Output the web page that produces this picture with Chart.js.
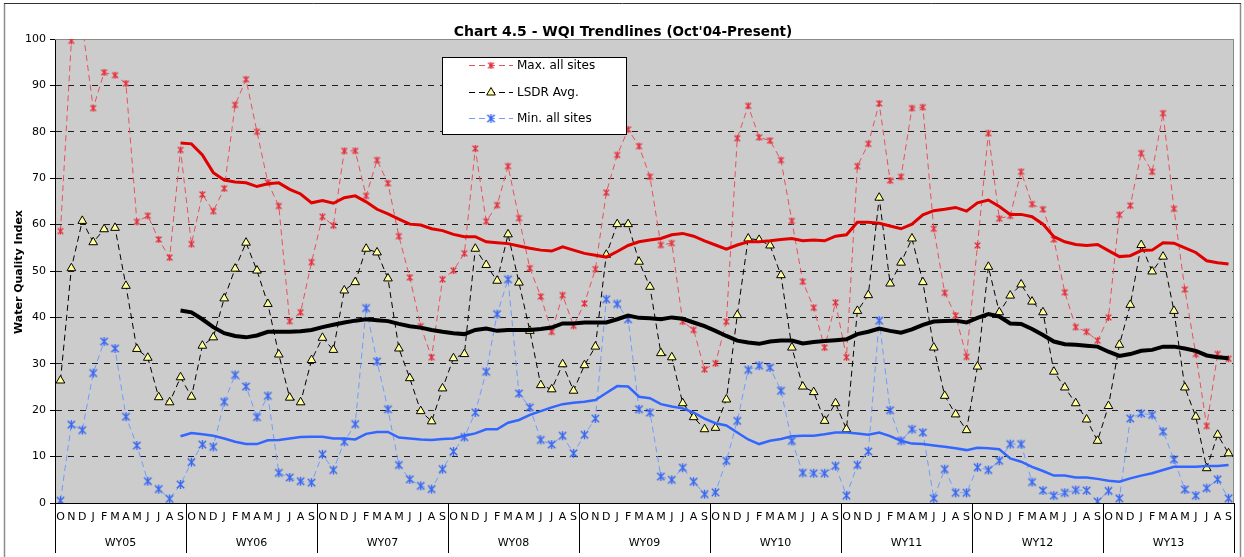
<!DOCTYPE html>
<html>
<head>
<meta charset="utf-8">
<title>Chart 4.5 - WQI Trendlines</title>
<script src="https://cdn.jsdelivr.net/npm/chart.js@4.4.0/dist/chart.umd.min.js"></script>
<style>
  html, body { margin: 0; padding: 0; background: #fff; }
  #wrap { position: relative; width: 1244px; height: 557px; }
</style>
</head>
<body>
<div id="wrap"><canvas id="wqi"></canvas></div>
<script>
// month letters repeat for every water year
const monthLetters = ['O', 'N', 'D', 'J', 'F', 'M', 'A', 'M', 'J', 'J', 'A', 'S'];
const waterYears = ['WY05', 'WY06', 'WY07', 'WY08', 'WY09', 'WY10', 'WY11', 'WY12', 'WY13'];
const monthLabels = waterYears.flatMap(() => monthLetters);

// values, one row per water year
const maxAllSites = [
	58.6, 99.6, 103, 85.1, 92.8, 92.2, 90.4, 60.6, 61.9, 56.8, 52.9, 76.1,
	55.8, 66.5, 62.9, 67.8, 85.8, 91.3, 80.0, 69.1, 64.0, 39.2, 41.1, 51.9,
	61.7, 59.8, 75.9, 75.9, 66.2, 73.9, 68.9, 57.5, 48.6, 38.1, 31.4, 48.2,
	50.1, 53.8, 76.4, 60.7, 64.2, 72.6, 61.4, 50.6, 44.5, 36.9, 44.8, 38.2,
	43.0, 50.4, 66.9, 75.0, 80.5, 76.9, 70.3, 55.6, 56.0, 39.1, 37.3, 28.8,
	30.1, 39.1, 78.6, 85.6, 78.8, 78.1, 73.9, 60.8, 47.7, 42.1, 33.5, 43.2,
	31.4, 72.6, 77.4, 86.1, 69.5, 70.3, 85.1, 85.3, 59.1, 45.3, 40.4, 31.5,
	55.5, 79.7, 61.3, 61.9, 71.4, 64.4, 63.3, 56.8, 45.4, 37.9, 36.9, 35.0,
	40.0, 62.1, 64.1, 75.4, 71.4, 84.0, 63.4, 46.0, 32.1, 16.6, 32.1, 31.1
];
const lsdrAvg = [
	26.4, 50.6, 60.8, 56.2, 59.0, 59.3, 46.8, 33.2, 31.3, 22.8, 21.7, 27.1,
	22.9, 33.9, 35.7, 44.1, 50.5, 56.1, 50.1, 42.9, 32.0, 22.7, 21.7, 30.8,
	35.6, 33.0, 45.8, 47.6, 54.8, 54.0, 48.4, 33.3, 26.9, 19.8, 17.6, 24.7,
	31.2, 32.1, 54.8, 51.3, 47.9, 57.9, 47.5, 37.1, 25.4, 24.5, 29.9, 24.2,
	29.7, 33.7, 53.5, 60.1, 60.1, 52.0, 46.6, 32.3, 31.4, 21.5, 18.5, 15.9,
	16.2, 22.3, 40.5, 57.0, 56.7, 55.5, 49.1, 33.5, 25.1, 23.9, 17.7, 21.5,
	15.9, 41.4, 44.8, 65.8, 47.3, 51.8, 57.0, 47.6, 33.5, 23.1, 19.1, 15.7,
	29.4, 50.9, 41.1, 44.7, 47.1, 43.4, 41.1, 28.3, 24.9, 21.5, 18.0, 13.4,
	20.9, 34.1, 42.7, 55.6, 49.9, 53.1, 41.4, 24.9, 18.6, 7.5, 14.7, 10.7
];
const minAllSites = [
	0.5, 16.9, 15.7, 28.0, 34.8, 33.3, 18.6, 12.4, 4.7, 3.0, 0.9, 4.0,
	8.8, 12.6, 12.1, 21.8, 27.6, 25.1, 18.5, 23.1, 6.5, 5.5, 4.7, 4.4,
	10.5, 7.1, 13.2, 17.0, 42.0, 30.5, 20.2, 8.2, 5.1, 3.7, 3.0, 7.3,
	11.1, 14.2, 19.5, 28.3, 40.7, 48.2, 23.6, 20.6, 13.6, 12.6, 14.5, 10.7,
	14.7, 18.2, 43.9, 42.9, 39.6, 20.2, 19.5, 5.7, 5.0, 7.6, 4.6, 1.9,
	2.3, 9.1, 17.7, 28.7, 29.6, 29.2, 24.2, 13.4, 6.5, 6.4, 6.4, 8.0,
	1.6, 8.2, 11.1, 39.3, 20.0, 13.4, 15.9, 15.2, 1.0, 7.3, 2.2, 2.2,
	7.7, 7.1, 9.1, 12.7, 12.7, 4.5, 2.7, 1.6, 2.2, 2.8, 2.7, 0.3,
	2.6, 1.0, 18.2, 19.3, 19.0, 15.4, 9.4, 2.9, 1.6, 3.2, 5.1, 1.0
];

// trendlines start at Sep of WY05
const maxTrend = [
	null, null, null, null, null, null, null, null, null, null, null, 77.6,
	77.4, 75.0, 71.2, 69.6, 69.2, 69.0, 68.2, 68.8, 69.0, 67.6, 66.6, 64.7,
	65.2, 64.6, 65.8, 66.2, 64.9, 63.3, 62.3, 61.2, 60.1, 59.9, 59.1, 58.7,
	57.9, 57.4, 57.4, 56.3, 56.1, 55.9, 55.4, 54.9, 54.5, 54.3, 55.2, 54.5,
	53.8, 53.4, 53.0, 54.2, 55.5, 56.3, 56.7, 57.0, 57.8, 58.1, 57.5, 56.5,
	55.6, 54.7, 55.6, 56.3, 56.3, 56.5, 56.8, 57.0, 56.5, 56.7, 56.5, 57.5,
	57.8, 60.5, 60.5, 60.3, 59.7, 59.1, 60.1, 62.1, 63.0, 63.3, 63.7, 62.9,
	64.7, 65.3, 63.9, 62.2, 62.2, 61.7, 60.1, 57.4, 56.3, 55.7, 55.5, 55.7,
	54.4, 53.1, 53.3, 54.4, 54.5, 56.1, 56.0, 55.0, 54.0, 52.2, 51.8, 51.5
];
const lsdrTrend = [
	null, null, null, null, null, null, null, null, null, null, null, 41.5,
	41.1, 39.6, 37.9, 36.6, 36.0, 35.7, 36.1, 36.9, 36.9, 36.9, 37.0, 37.3,
	37.9, 38.4, 38.9, 39.3, 39.6, 39.4, 39.2, 38.6, 38.1, 37.8, 37.3, 36.9,
	36.6, 36.4, 37.3, 37.6, 37.1, 37.3, 37.3, 37.3, 37.5, 37.8, 38.7, 38.7,
	38.9, 38.9, 38.9, 39.6, 40.4, 39.9, 39.8, 39.6, 40.0, 39.7, 38.9, 38.1,
	37.1, 36.0, 35.0, 34.6, 34.3, 34.8, 35.0, 35.0, 34.4, 34.7, 34.9, 35.1,
	35.3, 36.4, 36.9, 37.6, 37.1, 36.7, 37.4, 38.4, 39.1, 39.2, 39.3, 38.9,
	39.9, 40.7, 40.2, 38.7, 38.6, 37.5, 36.2, 34.8, 34.2, 34.1, 33.9, 33.7,
	32.6, 31.7, 32.1, 32.8, 33.0, 33.7, 33.7, 33.3, 32.8, 31.8, 31.4, 31.2
];
const minTrend = [
	null, null, null, null, null, null, null, null, null, null, null, 14.4,
	15.1, 14.8, 14.5, 13.9, 13.2, 12.7, 12.7, 13.5, 13.6, 13.9, 14.2, 14.3,
	14.3, 13.9, 13.9, 13.7, 14.9, 15.3, 15.3, 14.1, 13.9, 13.7, 13.6, 13.8,
	13.9, 14.5, 15.0, 15.9, 15.9, 17.3, 17.9, 19.0, 19.8, 20.6, 21.3, 21.6,
	21.8, 22.2, 23.7, 25.2, 25.1, 22.9, 22.6, 21.3, 20.8, 20.4, 19.5, 18.2,
	17.2, 16.7, 15.2, 13.7, 12.7, 13.4, 13.8, 14.4, 14.5, 14.5, 14.8, 15.2,
	15.2, 15.0, 14.7, 15.2, 14.4, 13.4, 12.8, 12.7, 12.4, 12.1, 11.8, 11.4,
	11.9, 11.8, 11.6, 9.6, 8.9, 7.8, 6.9, 5.9, 5.9, 5.5, 5.5, 5.2,
	4.8, 4.6, 5.3, 5.9, 6.4, 7.1, 7.8, 7.8, 7.8, 8.0, 8.0, 8.2
];

Chart.defaults.font.family = "'DejaVu Sans', Verdana, sans-serif";
Chart.defaults.color = '#000';

// excel style "*" marker: an x with a vertical stroke
let asterisk = function (color, r, lw) {
	const c = document.createElement('canvas');
	const s = Math.ceil(r * 2 + lw + 2);
	c.width = s;
	c.height = s;
	const g = c.getContext('2d');
	const m = s / 2;
	const d = r * 0.8;
	g.strokeStyle = color;
	g.lineWidth = lw;
	g.beginPath();
	g.moveTo(m - d, m - d); g.lineTo(m + d, m + d);
	g.moveTo(m + d, m - d); g.lineTo(m - d, m + d);
	g.moveTo(m, m - r); g.lineTo(m, m + r);
	g.stroke();
	return c;
};

const redStar = asterisk('#e4303c', 3.6, 1.4);
const blueStar = asterisk('#3868f0', 4.6, 1.4);

const series = [
	{ label: 'Max. all sites', line: '#e8525c', style: redStar, fill: '#e4303c', radius: 3.6 },
	{ label: 'LSDR Avg.', line: '#000', style: 'triangle', fill: '#ffff99', radius: 5 },
	{ label: 'Min. all sites', line: '#6e9cff', style: blueStar, fill: '#3868f0', radius: 4.6 }
];

let plotFrame = {
	id: 'plotFrame',
	beforeDraw(chart) {
		const { ctx, chartArea: a } = chart;
		ctx.save();
		ctx.fillStyle = '#fff';
		ctx.fillRect(0, 0, chart.width, chart.height);
		ctx.fillStyle = '#cccccc';
		ctx.fillRect(a.left, a.top, a.right - a.left, a.bottom - a.top);
		// outer chart border
		ctx.strokeStyle = '#8c8c8c';
		ctx.lineWidth = 1.5;
		ctx.beginPath();
		ctx.moveTo(4.5, chart.height);
		ctx.lineTo(4.5, 3.5);
		ctx.moveTo(1240.5, 3.5);
		ctx.lineTo(1240.5, chart.height);
		ctx.stroke();
		ctx.strokeStyle = '#333';
		ctx.lineWidth = 1;
		ctx.beginPath();
		ctx.moveTo(4, 3.5);
		ctx.lineTo(1241, 3.5);
		ctx.stroke();
		ctx.restore();
	},
	beforeDatasetsDraw(chart) {
		const { ctx, chartArea: a } = chart;
		ctx.save();
		ctx.strokeStyle = '#8a8a8a';
		ctx.lineWidth = 1;
		ctx.beginPath();
		ctx.moveTo(a.left, a.top + 0.5);
		ctx.lineTo(a.right - 0.5, a.top + 0.5);
		ctx.lineTo(a.right - 0.5, a.bottom);
		ctx.stroke();
		ctx.restore();
	},
	afterDraw(chart) {
		const { ctx, chartArea: a } = chart;
		const xs = chart.scales.x;
		const cell = xs.getPixelForValue(1) - xs.getPixelForValue(0);
		ctx.save();

		// water year groups under the month letters
		ctx.strokeStyle = '#000';
		ctx.lineWidth = 1;
		ctx.font = "11px 'DejaVu Sans'";
		ctx.fillStyle = '#000';
		ctx.textAlign = 'center';
		ctx.textBaseline = 'middle';
		for (let y = 0; y <= waterYears.length; y++) {
			const bx = Math.round(xs.getPixelForValue(y * 12) - cell / 2) + 0.5;
			ctx.beginPath();
			ctx.moveTo(bx, a.bottom);
			ctx.lineTo(bx, 553);
			ctx.stroke();
		}
		waterYears.forEach((wy, y) => {
			const cx = (xs.getPixelForValue(y * 12) + xs.getPixelForValue(y * 12 + 11)) / 2;
			ctx.fillText(wy, cx, 543);
		});

		// title
		ctx.textBaseline = 'alphabetic';
		ctx.textAlign = 'left';
		const t1 = 'Chart 4.5 - WQI Trendlines ';
		const t2 = "(Oct'04-Present)";
		ctx.font = "bold 14px 'DejaVu Sans'";
		const w1 = ctx.measureText(t1).width;
		ctx.font = "bold 13.5px 'DejaVu Sans'";
		const w2 = ctx.measureText(t2).width;
		const tx = 623 - (w1 + w2) / 2;
		ctx.font = "bold 14px 'DejaVu Sans'";
		ctx.fillText(t1, tx, 36);
		ctx.font = "bold 13.5px 'DejaVu Sans'";
		ctx.fillText(t2, tx + w1, 36);

		// y axis title
		ctx.save();
		ctx.translate(19, 272);
		ctx.rotate(-Math.PI / 2);
		ctx.textAlign = 'center';
		ctx.textBaseline = 'middle';
		ctx.font = "bold 11px 'DejaVu Sans'";
		ctx.fillText('Water Quality Index', 0, 0);
		ctx.restore();

		// legend box inside the plot
		ctx.fillStyle = '#fff';
		ctx.fillRect(442.5, 57.5, 184, 77);
		ctx.strokeStyle = '#000';
		ctx.strokeRect(442.5, 57.5, 184, 77);
		const rows = [65.5, 92.5, 118.5];
		series.forEach((s, i) => {
			const ly = rows[i];
			ctx.save();
			ctx.strokeStyle = s.line;
			ctx.lineWidth = 1;
			ctx.setLineDash([6, 4]);
			ctx.beginPath();
			ctx.moveTo(469, ly);
			ctx.lineTo(513, ly);
			ctx.stroke();
			ctx.restore();
			ctx.save();
			ctx.fillStyle = s.fill;
			ctx.strokeStyle = '#000';
			ctx.lineWidth = 1;
			Chart.helpers.drawPoint(ctx, { pointStyle: s.style, radius: s.radius, rotation: 0, borderWidth: 1 }, 491, ly);
			ctx.restore();
			ctx.fillStyle = '#000';
			ctx.font = "12px 'DejaVu Sans'";
			ctx.textAlign = 'left';
			ctx.textBaseline = 'middle';
			ctx.fillText(s.label, 517, ly);
		});
		ctx.restore();
	}
};

let dashed = function (s, data) {
	return {
		label: s.label,
		data: data,
		borderColor: s.line,
		borderWidth: 1,
		borderDash: [6, 4],
		pointStyle: s.style,
		pointRadius: s.radius,
		pointBackgroundColor: s.fill,
		pointBorderColor: s.style === 'triangle' ? '#000' : s.fill,
		pointBorderWidth: 1,
		tension: 0,
		fill: false
	};
};

let trend = function (data, color, width) {
	return {
		label: 'trend',
		data: data,
		borderColor: color,
		borderWidth: width,
		pointRadius: 0,
		tension: 0,
		fill: false,
		spanGaps: false
	};
};

const chart = new Chart(document.getElementById('wqi'), {
	type: 'line',
	data: {
		labels: monthLabels,
		datasets: [
			trend(maxTrend, '#e00000', 3),
			trend(lsdrTrend, '#000', 4),
			trend(minTrend, '#3366ff', 2.5),
			dashed(series[0], maxAllSites),
			dashed(series[1], lsdrAvg),
			dashed(series[2], minAllSites)
		]
	},
	options: {
		responsive: true,
		maintainAspectRatio: false,
		animation: false,
		layout: { padding: { top: 39, right: 10, left: 0, bottom: 0 } },
		plugins: {
			legend: { display: false },
			title: { display: false },
			tooltip: { enabled: false }
		},
		scales: {
			x: {
				type: 'category',
				offset: true,
				afterFit: (scale) => { scale.height = 54; },
				grid: { drawOnChartArea: false, drawTicks: false },
				border: { display: true, color: '#000', width: 1 },
				ticks: {
					autoSkip: false,
					maxRotation: 0,
					minRotation: 0,
					padding: 8,
					color: '#000',
					font: { size: 11 }
				}
			},
			y: {
				min: 0,
				max: 100,
				afterFit: (scale) => { scale.width = 55; },
				grid: {
					color: (c) => (c.tick && c.tick.value === 100 ? '#8a8a8a' : '#1e1e1e'),
					lineWidth: 1,
					drawTicks: true,
					tickLength: 5,
					tickColor: '#000',
					tickBorderDash: []
				},
				border: { display: true, color: '#000', width: 1, dash: [6, 6] },
				ticks: {
					stepSize: 10,
					padding: 4,
					color: '#000',
					font: { size: 11 }
				}
			}
		}
	},
	plugins: [plotFrame]
});
</script>
</body>
</html>
